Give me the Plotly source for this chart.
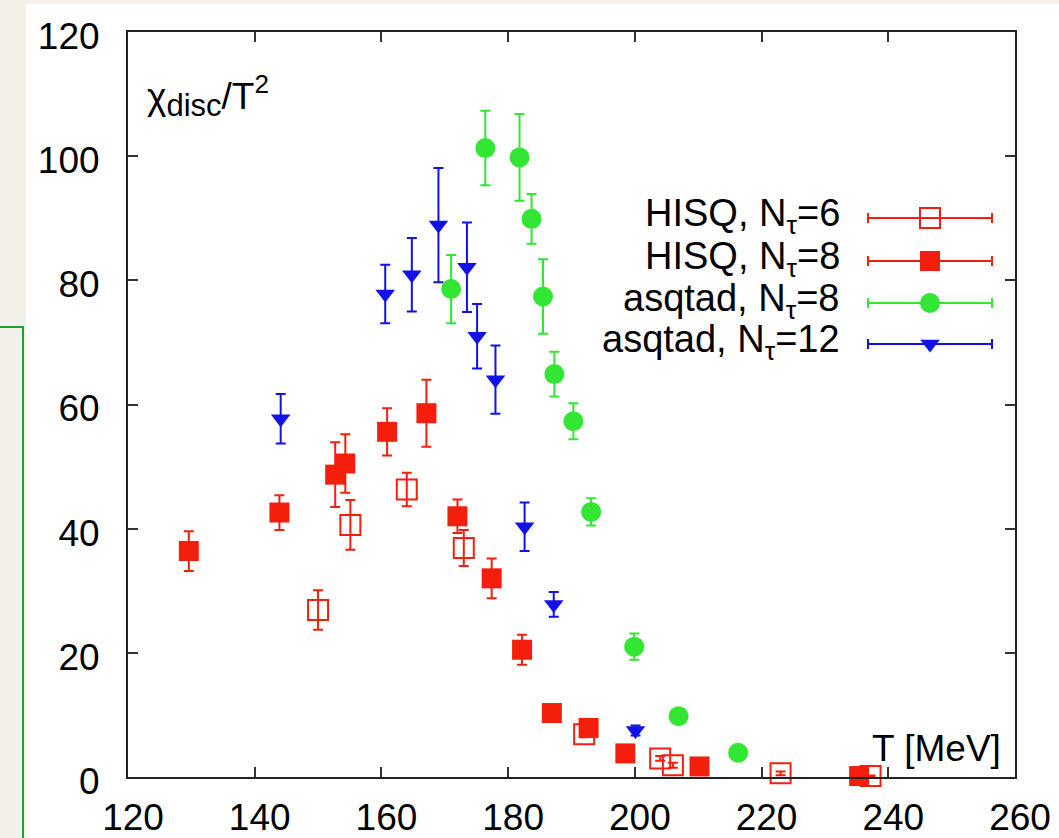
import plotly.graph_objects as go

# ---------------- data ----------------
hisq6_T   = [150.0, 155.1, 164.0, 173.0, 192.0, 204.0, 206.0, 223.0, 237.2]
hisq6_chi = [26.9, 40.6, 46.3, 36.9, 6.9, 3.0, 1.9, 0.6, 0.15]
hisq6_err = [3.2, 4.0, 2.7, 2.9, 0.5, 0.4, 0.4, 0.3, 0.1]

hisq8_T   = [129.6, 143.9, 152.7, 154.3, 160.9, 167.1, 172.0, 177.4, 182.2, 186.9, 192.7, 198.5, 210.2, 235.4]
hisq8_chi = [36.4, 42.6, 48.7, 50.5, 55.6, 58.6, 42.0, 32.0, 20.5, 10.3, 7.9, 3.8, 1.7, 0.15]
hisq8_err = [3.2, 2.8, 5.2, 4.7, 3.8, 5.4, 2.7, 3.2, 2.4, 0.6, 0.5, 0.4, 0.2, 0.1]

asq8_T   = [171.0, 176.4, 181.8, 183.7, 185.5, 187.3, 190.3, 193.1, 199.9, 206.9, 216.3]
asq8_chi = [78.6, 101.3, 99.8, 89.9, 77.4, 64.9, 57.3, 42.7, 21.0, 9.8, 3.9]
asq8_err = [5.5, 6.0, 7.0, 4.0, 6.0, 3.6, 2.9, 2.2, 2.1, 0.5, 0.3]

asq12_T   = [144.1, 160.6, 164.8, 169.0, 173.5, 175.1, 178.0, 182.6, 187.2, 200.1]
asq12_chi = [57.7, 77.8, 80.9, 88.9, 82.1, 71.0, 64.0, 40.3, 27.8, 7.5]
asq12_err = [4.0, 4.7, 5.9, 9.2, 7.2, 5.2, 5.5, 3.9, 2.0, 0.8]

series_names = ["HISQ, N<sub>τ</sub>=6", "HISQ, N<sub>τ</sub>=8",
                "asqtad, N<sub>τ</sub>=8", "asqtad, N<sub>τ</sub>=12"]
x_ticks = [120, 140, 160, 180, 200, 220, 240, 260]
y_ticks = [0, 20, 40, 60, 80, 100, 120]

# ---------------- styling ----------------
RED = "#f31e0c"
GREEN = "#33e633"
BLUE = "#1212e8"
FONT = "Liberation Sans, Arial, Helvetica, sans-serif"

W, H = 1059, 838
L, R, T, B = 128, 44, 32, 61
PW, PH = W - L - R, H - T - B


def px_x(p):
    return (p - L) / PW


def px_y(p):
    return (H - B - p) / PH


styles = [
    dict(symbol="square-open", size=20, color=RED, line=dict(color=RED, width=2)),
    dict(symbol="square", size=20, color=RED, line=dict(width=0)),
    dict(symbol="circle", size=20, color=GREEN, line=dict(width=0)),
    dict(symbol="triangle-down", size=17, color=BLUE, line=dict(width=0)),
]
colors = [RED, RED, GREEN, BLUE]
data = [(hisq6_T, hisq6_chi, hisq6_err), (hisq8_T, hisq8_chi, hisq8_err),
        (asq8_T, asq8_chi, asq8_err), (asq12_T, asq12_chi, asq12_err)]

fig = go.Figure()

for (xs, ys, es), st, c, nm in zip(data, styles, colors, series_names):
    fig.add_trace(go.Scatter(
        x=xs, y=ys, mode="markers", name=nm, marker=st, cliponaxis=False,
        error_y=dict(type="data", array=es, visible=True, color=c, thickness=2, width=5),
        showlegend=False, hoverinfo="skip"))

# ---- hand-drawn legend (symbol to the right of the text, as in gnuplot) ----
leg_rows = [218, 261, 303, 344]
leg_x = 930
for row, st, c, nm in zip(leg_rows, styles, colors, series_names):
    fig.add_trace(go.Scatter(
        x=[leg_x], y=[row], mode="markers", marker=st, xaxis="x2", yaxis="y2",
        error_x=dict(type="constant", value=62, visible=True, color=c, thickness=2, width=5),
        showlegend=False, hoverinfo="skip", cliponaxis=False))
    fig.add_annotation(x=842, y=row - 2, xref="x2", yref="y2", text=nm, showarrow=False,
                       xanchor="right", yanchor="middle",
                       font=dict(family=FONT, size=38, color="black"))

axis_common = dict(ticks="inside", ticklen=10, tickwidth=1.5, tickcolor="#333",
                   showline=True, linewidth=2, linecolor="#222", mirror="ticks",
                   showgrid=False, zeroline=False, automargin=False,
                   tickfont=dict(family=FONT, size=37, color="black"))

fig.update_layout(
    width=W, height=H,
    margin=dict(l=L, r=R, t=T, b=B, autoexpand=False),
    paper_bgcolor="#f3f0ea",
    plot_bgcolor="white",
    showlegend=False,
    font=dict(family=FONT, size=37, color="black"),
    xaxis=dict(range=[120, 260], tickvals=x_ticks, ticktext=[str(v) for v in x_ticks],
               ticklabelstandoff=7, ticklabelshift=5, **axis_common),
    yaxis=dict(range=[0, 120], tickvals=y_ticks, ticktext=[str(v) for v in y_ticks],
               ticklabelstandoff=19, ticklabelshift=4, **axis_common),
    xaxis2=dict(overlaying="x", range=[L, W - R], visible=False, fixedrange=True),
    yaxis2=dict(overlaying="y", range=[H - B, T], visible=False, fixedrange=True),
)

# white slide panel and green box on the left (background of the screenshot)
fig.add_shape(type="rect", xref="paper", yref="paper",
              x0=px_x(26), x1=px_x(W + 5), y0=px_y(H + 5), y1=px_y(4),
              fillcolor="white", line=dict(width=0), layer="below")
fig.add_shape(type="path", xref="paper", yref="paper",
              path=f"M {px_x(-5)},{px_y(327)} L {px_x(23)},{px_y(327)} L {px_x(23)},{px_y(H + 5)}",
              line=dict(color="#2a9a2a", width=2), layer="below")

# axis labels placed inside the frame
fig.add_annotation(x=px_x(145), y=px_y(96), xref="paper", yref="paper",
                   text="χ<sub><span style='font-size:31px'>disc</span></sub>/T<sup><span style='font-size:26px'>2</span></sup>",
                   showarrow=False, xanchor="left", yanchor="middle",
                   font=dict(family=FONT, size=37, color="black"))
fig.add_annotation(x=px_x(1003), y=px_y(748), xref="paper", yref="paper",
                   text="T [MeV]", showarrow=False, xanchor="right", yanchor="middle",
                   font=dict(family=FONT, size=37, color="black"))

fig.write_html("out.html")
